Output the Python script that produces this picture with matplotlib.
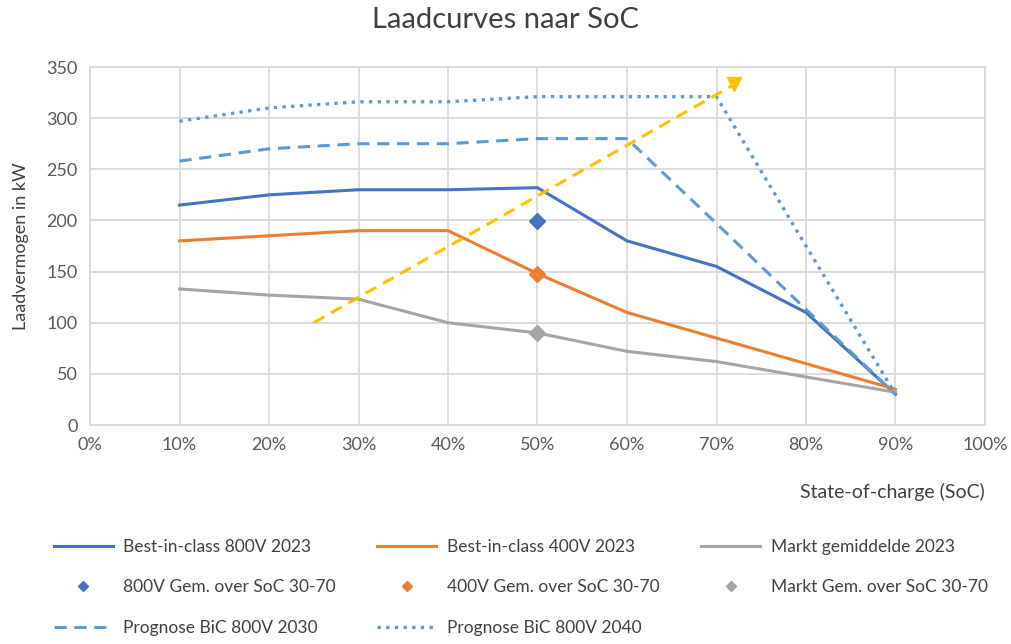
import numpy as np
import matplotlib.pyplot as plt

plt.rcParams['font.family'] = ['Lato', 'DejaVu Sans']

# state of charge in percent
soc = [10, 20, 30, 40, 50, 60, 70, 80, 90]

bic_800v_2023 = [215, 225, 230, 230, 232, 180, 155, 110, 30]
bic_400v_2023 = [180, 185, 190, 190, 148, 110, 85, 60, 35]
markt_2023 = [133, 127, 123, 100, 90, 72, 62, 47, 32]

# averages over SoC 30-70, plotted at 50%
gem_soc = [50]
gem_800v = [199]
gem_400v = [148]
gem_markt = [90]

prognose_2030 = [258, 270, 275, 275, 280, 280, 197, 113, 30]
prognose_2040 = [297, 310, 316, 316, 321, 321, 321, 175, 30]

# yellow trend arrow (start, end)
trend_x = [25, 72]
trend_y = [100, 333]

x_ticks = [0, 10, 20, 30, 40, 50, 60, 70, 80, 90, 100]
y_ticks = [0, 50, 100, 150, 200, 250, 300, 350]

BLUE = '#4472C4'
ORANGE = '#ED7D31'
GREY = '#A5A5A5'
LBLUE = '#5B9BD5'
YELLOW = '#FFC000'
TXT = '#595959'


def main():
    fig = plt.figure(figsize=(10.12, 6.44), dpi=100)
    ax = fig.add_axes([90 / 1012, 1 - 425 / 644, 895 / 1012, 358 / 644])

    l1, = ax.plot(soc, bic_800v_2023, color=BLUE, lw=2.2, label='Best-in-class 800V 2023')
    l2, = ax.plot(soc, bic_400v_2023, color=ORANGE, lw=2.2, label='Best-in-class 400V 2023')
    l3, = ax.plot(soc, markt_2023, color=GREY, lw=2.2, label='Markt gemiddelde 2023')
    l4, = ax.plot(soc, prognose_2030, color=LBLUE, lw=2.2, ls=(0, (4, 2.5)),
                  label='Prognose BiC 800V 2030')
    l5, = ax.plot(soc, prognose_2040, color=LBLUE, lw=2.4, ls=(0, (1, 1.6)),
                  label='Prognose BiC 800V 2040')

    d1, = ax.plot(gem_soc, gem_800v, 'D', color=BLUE, ms=8, ls='none',
                  label='800V Gem. over SoC 30-70')
    d2, = ax.plot(gem_soc, gem_400v, 'D', color=ORANGE, ms=8, ls='none',
                  label='400V Gem. over SoC 30-70')
    d3, = ax.plot(gem_soc, gem_markt, 'D', color=GREY, ms=8, ls='none',
                  label='Markt Gem. over SoC 30-70')

    # trend arrow
    ax.plot(trend_x, trend_y, color=YELLOW, lw=2.2, ls=(0, (4, 2.5)), zorder=4)
    ax.plot(trend_x[1], trend_y[1], marker='v', color=YELLOW, ms=10, zorder=4)

    ax.set_xlim(0, 100)
    ax.set_ylim(0, 350)
    ax.set_xticks(x_ticks)
    ax.set_xticklabels([f'{t}%' for t in x_ticks])
    ax.set_yticks(y_ticks)
    ax.tick_params(length=0, labelsize=13, colors=TXT, pad=9)
    ax.grid(True, color='#D9D9D9', lw=1.3)
    ax.set_axisbelow(True)
    for s in ax.spines.values():
        s.set_color('#D9D9D9')
        s.set_linewidth(1.3)

    ax.set_ylabel('Laadvermogen in kW', fontsize=13, color='#404040', labelpad=12)
    fig.text(985 / 1012, 1 - 492 / 644, 'State-of-charge (SoC)', fontsize=14,
             color='#404040', ha='right', va='center')
    fig.text(0.5, 1 - 20 / 644, 'Laadcurves naar SoC', fontsize=21,
             color='#404040', ha='center', va='center')

    # column-major order so rows match the reference
    handles = [l1, d1, l4, l2, d2, l5, l3, d3]
    leg = fig.legend(handles=handles, ncol=3, loc='lower left',
                     bbox_to_anchor=(38 / 1012, -0.012), frameon=False,
                     fontsize=12.5, handlelength=3.4, handletextpad=0.6,
                     columnspacing=2.4, labelspacing=1.42, markerscale=0.6)
    for t in leg.get_texts():
        t.set_color('#404040')

    fig.savefig('out.png', dpi=100)


if __name__ == '__main__':
    main()
